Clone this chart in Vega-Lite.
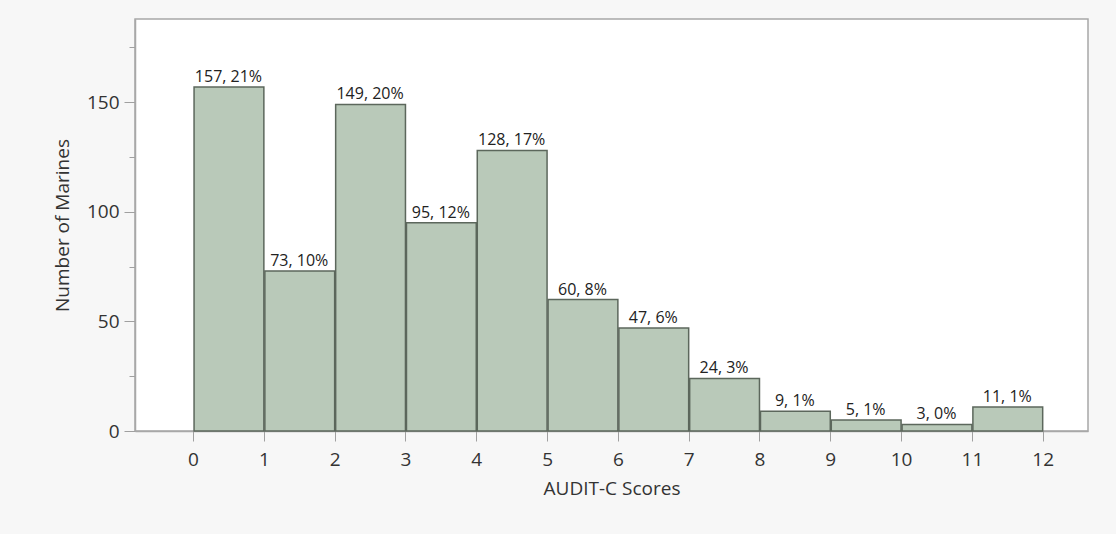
{
  "$schema": "https://vega.github.io/schema/vega-lite/v6.json",
  "width": 953,
  "height": 412,
  "autosize": {"type": "none"},
  "padding": {"left": 135, "top": 19, "right": 28, "bottom": 103},
  "background": "#f7f7f7",
  "config": {
    "view": {"stroke": "#a8a8a8", "strokeWidth": 1.5, "fill": "#ffffff"},
    "font": "Open Sans"
  },
  "data": {
    "values": [
      {"lo": 0, "hi": 1, "count": 157, "label": "157, 21%"},
      {"lo": 1, "hi": 2, "count": 73, "label": "73, 10%"},
      {"lo": 2, "hi": 3, "count": 149, "label": "149, 20%"},
      {"lo": 3, "hi": 4, "count": 95, "label": "95, 12%"},
      {"lo": 4, "hi": 5, "count": 128, "label": "128, 17%"},
      {"lo": 5, "hi": 6, "count": 60, "label": "60, 8%"},
      {"lo": 6, "hi": 7, "count": 47, "label": "47, 6%"},
      {"lo": 7, "hi": 8, "count": 24, "label": "24, 3%"},
      {"lo": 8, "hi": 9, "count": 9, "label": "9, 1%"},
      {"lo": 9, "hi": 10, "count": 5, "label": "5, 1%"},
      {"lo": 10, "hi": 11, "count": 3, "label": "3, 0%"},
      {"lo": 11, "hi": 12, "count": 11, "label": "11, 1%"}
    ]
  },
  "encoding": {
    "y": {
      "field": "count",
      "type": "quantitative",
      "scale": {"domain": [0, 188], "nice": false, "zero": true},
      "axis": {
        "title": "Number of Marines",
        "values": [0, 25, 50, 75, 100, 125, 150, 175],
        "labelExpr": "datum.value % 50 === 0 ? datum.label : ''",
        "tickSize": {"condition": {"test": "datum.value % 50 === 0", "value": 11}, "value": 6},
        "tickColor": "#a0a0a0",
        "domainColor": "#a8a8a8",
        "domainWidth": 1.5,
        "grid": false,
        "labelFontSize": 19,
        "labelColor": "#333333",
        "labelPadding": 5,
        "titleFontSize": 19,
        "titleFontWeight": "normal",
        "titleColor": "#333333",
        "titlePadding": 14
      }
    }
  },
  "layer": [
    {
      "mark": {"type": "bar", "fill": "#b9c9b9", "stroke": "#5c675c", "strokeWidth": 1.5},
      "encoding": {
        "x": {
          "field": "lo",
          "type": "quantitative",
          "bin": "binned",
          "scale": {"domain": [-0.82, 12.64], "nice": false, "zero": false},
          "axis": {
            "title": "AUDIT-C Scores",
            "values": [0, 1, 2, 3, 4, 5, 6, 7, 8, 9, 10, 11, 12],
            "format": "d",
            "tickSize": 10,
            "tickColor": "#a0a0a0",
            "domainColor": "#a8a8a8",
            "domainWidth": 1.5,
            "grid": false,
            "labelFontSize": 19,
            "labelColor": "#333333",
            "labelPadding": 9,
            "labelFlush": false,
            "labelOverlap": false,
            "titleFontSize": 19,
            "titleFontWeight": "normal",
            "titleColor": "#333333",
            "titlePadding": 10
          }
        },
        "x2": {"field": "hi"}
      }
    },
    {
      "mark": {"type": "text", "align": "center", "baseline": "bottom", "dx": 35.4, "dy": -2, "fontSize": 16, "color": "#222222"},
      "encoding": {
        "x": {"field": "lo", "type": "quantitative"},
        "text": {"field": "label"}
      }
    }
  ]
}
